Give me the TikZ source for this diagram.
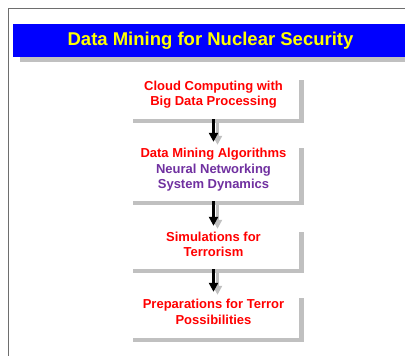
\documentclass[tikz,border=0pt]{standalone}
\usepackage{fontspec}
\setmainfont{Liberation Sans}
\usetikzlibrary{positioning,arrows.meta,shadows}

\definecolor{barblue}{RGB}{0,0,255}
\definecolor{titleyellow}{RGB}{255,255,0}
\definecolor{stagered}{RGB}{255,0,0}
\definecolor{stagepurple}{RGB}{112,48,160}
\definecolor{shadowgray}{RGB}{192,192,192}
\definecolor{framegray}{RGB}{110,110,110}

\tikzset{
  stagebox/.style={fill=white, minimum width=171pt, align=center, text=stagered,
    font=\fontsize{13}{15.5}\selectfont\bfseries, text depth=8pt,
    drop shadow={shadow xshift=5pt, shadow yshift=-4pt, fill=shadowgray, opacity=1}},
  flowarrow/.style={line width=2.6pt, -{Triangle[length=9pt,width=9pt]}, shorten >=2pt},
  titlebar/.style={fill=barblue, minimum width=397pt, minimum height=33pt, inner sep=0pt,
    drop shadow={shadow xshift=7pt, shadow yshift=-5pt, fill=shadowgray, opacity=1}},
  titletext/.style={font=\fontsize{18.5}{22}\selectfont\bfseries, text=titleyellow, inner sep=0pt}
}

\begin{document}
\begin{tikzpicture}[x=1pt, y=-1pt]

\useasboundingbox (0,0) rectangle (405,356);

% Page frame
\draw[framegray, line width=0.9pt] (405,8) -- (8,8) -- (8,356);

% Title bar
\node[titlebar] (titlebar) at (211.5,40.5) {};
\node[titletext] (title) at (210.5,41) {Data Mining for Nuclear Security};

% Stages
\node[stagebox, minimum height=43pt] (cloud) at (213.5,97.5)
  {Cloud Computing with\\Big Data Processing};
\node[stagebox, minimum height=57pt] (mining) at (213.5,172.5)
  {Data Mining Algorithms\\\textcolor{stagepurple}{Neural Networking}\\\textcolor{stagepurple}{System Dynamics}};
\node[stagebox, minimum height=41pt] (sims) at (213.5,248.5)
  {Simulations for\\Terrorism};
\node[stagebox, minimum height=44pt] (prep) at (213.5,316)
  {Preparations for Terror\\Possibilities};

% Arrows (shadow first)
\foreach \a/\b in {cloud/mining, mining/sims, sims/prep} {
  \draw[flowarrow, shadowgray, transform canvas={xshift=4pt,yshift=-3pt}] (\a.south) -- (\b.north);
  \draw[flowarrow, black] (\a.south) -- (\b.north);
}

\end{tikzpicture}
\end{document}
